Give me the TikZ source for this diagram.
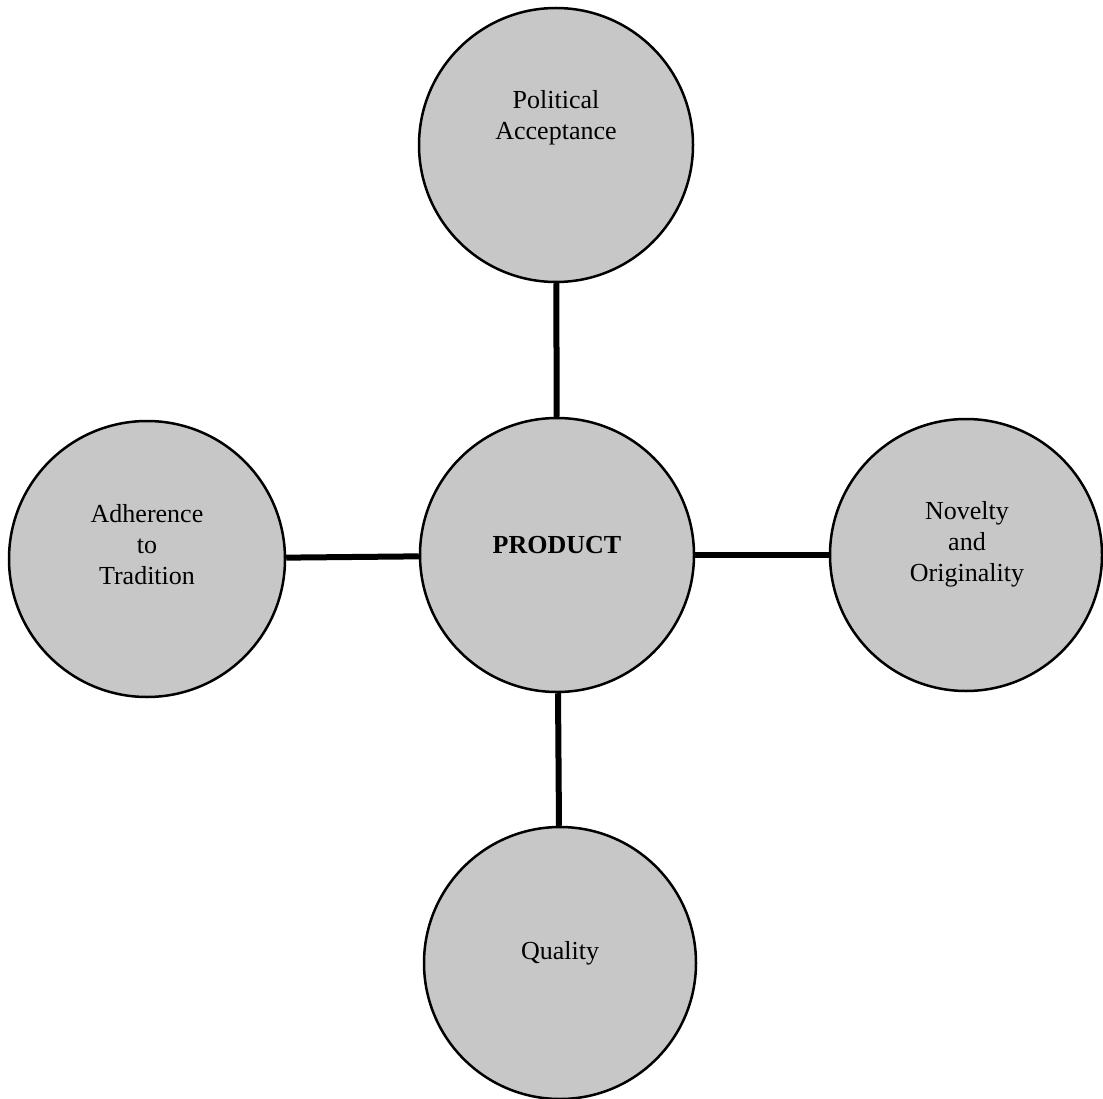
\documentclass[tikz,border=0pt]{standalone}
\usepackage{fontspec}
\setmainfont{Liberation Serif}
\begin{document}
\begin{tikzpicture}[x=1pt,y=-1pt,
  bubble/.style={circle, draw=black, line width=2.5pt, fill=black!22, minimum size=#1, inner sep=0pt},
  bubble/.default=274pt,
  caption/.style={font=\fontsize{26}{31}\selectfont, align=center, inner sep=0pt},
  link/.style={line width=6pt}]
\useasboundingbox (0,0) rectangle (1103,1099);
\node[bubble] (top) at (556,145) {};
\node[bubble] (prod) at (557,555) {};
\node[bubble=276pt] (left) at (147,559) {};
\node[bubble=272pt] (right) at (966,555) {};
\node[bubble=272pt] (bottom) at (560,963) {};
\draw[link] (top) -- (prod);
\draw[link] (left) -- (prod);
\draw[link] (prod) -- (right);
\draw[link] (prod) -- (bottom);
\node[caption] (toptext) at (556,118) {Political\\Acceptance};
\node[caption,font=\fontsize{26}{31}\selectfont\bfseries] (prodtext) at (557,545) {PRODUCT};
\node[caption] (lefttext) at (147,545) {Adherence\\to\\Tradition};
\node[caption] (righttext) at (967,544) {Novelty\\and\\Originality};
\node[caption] (bottomtext) at (560,953) {Quality};
\end{tikzpicture}
\end{document}
